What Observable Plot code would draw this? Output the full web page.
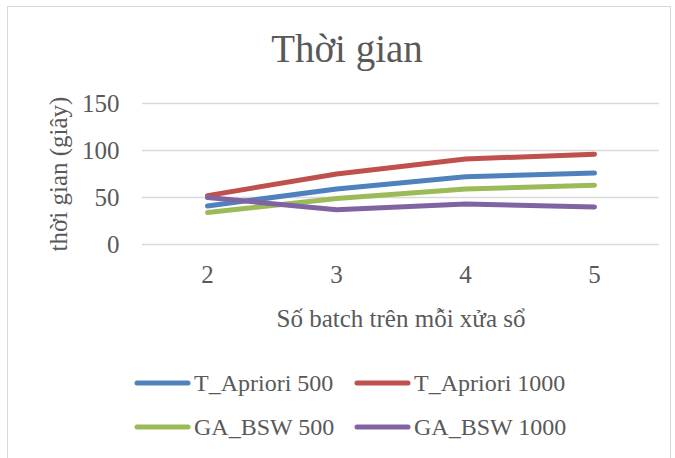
<!DOCTYPE html>
<html>
<head>
<meta charset="utf-8">
<script src="https://cdn.jsdelivr.net/npm/d3@7"></script>
<script src="https://cdn.jsdelivr.net/npm/@observablehq/plot@0.6"></script>
<style>
  html, body { margin: 0; padding: 0; background: #fff; }
  #wrap { position: relative; width: 675px; height: 458px; overflow: hidden; font-family: "Liberation Serif", serif; color: #595959; }
  #frame { position: absolute; left: 7px; top: 6px; width: 664px; height: 470px; border: 1.5px solid #d9d9d9; box-sizing: border-box; }
  #title { position: absolute; left: 0; width: 694px; top: 29px; text-align: center; font-size: 39px; line-height: 39px; font-family: "Liberation Serif", serif; }
  #plot { position: absolute; left: 0; top: 88px; }
  .leg { position: absolute; display: flex; align-items: center; font-family: "Liberation Serif", serif; font-size: 24px; line-height: 24px; white-space: nowrap; color: #595959; }
  .leg span { font-family: "Liberation Serif", serif; }
  .leg svg { margin-right: 3px; }
</style>
</head>
<body>
<div id="wrap">
  <div id="frame"></div>
  <div id="title">Thời gian</div>
  <div id="plot"></div>
  <div id="legend"></div>
</div>
<script>
const xValues = [2, 3, 4, 5];
const seriesNames = ["T_Apriori 500", "T_Apriori 1000", "GA_BSW 500", "GA_BSW 1000"];
const tApriori500 = [41, 59, 72, 76];
const tApriori1000 = [52, 75, 91, 96];
const gaBsw500 = [34, 49, 59, 63];
const gaBsw1000 = [50, 37, 43, 40];
const yTicks = [0, 50, 100, 150];
const colors = ["#4F81BD", "#C0504D", "#9BBB59", "#8064A2"];
const xLabel = "Số batch trên mỗi xửa sổ";
const yLabel = "thời gian (giây)";

const valuesBySeries = [tApriori500, tApriori1000, gaBsw500, gaBsw1000];
const data = [];
seriesNames.forEach((s, i) => xValues.forEach((x, j) => data.push({series: s, x, y: valuesBySeries[i][j]})));

const font = '"Liberation Serif", serif';
const chart = Plot.plot({
  width: 675,
  height: 252,
  marginLeft: 142,
  marginRight: 16,
  marginTop: 15,
  marginBottom: 96,
  style: {fontFamily: font, color: "#595959", background: "transparent"},
  x: {type: "point", domain: xValues, padding: 0.5},
  y: {domain: [0, 150]},
  color: {domain: seriesNames, range: colors},
  marks: [
    Plot.ruleY(yTicks, {stroke: "#d9d9d9", strokeWidth: 1.5}),
    Plot.axisY(yTicks, {tickSize: 0, tickPadding: 23, fontSize: 25, label: null, fill: "#595959"}),
    Plot.axisX(xValues, {tickSize: 0, tickPadding: 21, fontSize: 25, label: null, fill: "#595959"}),
    Plot.text([yLabel], {frameAnchor: "left", textAnchor: "middle", dx: -84, rotate: -90, fontSize: 25, fill: "#595959"}),
    Plot.text([xLabel], {frameAnchor: "bottom", textAnchor: "middle", dy: 82, fontSize: 25, fill: "#595959"}),
    Plot.line(data, {x: "x", y: "y", z: "series", stroke: "series", strokeWidth: 5, strokeLinecap: "round", strokeLinejoin: "round"})
  ]
});
document.getElementById("plot").appendChild(chart);

const legend = document.getElementById("legend");
const pos = [[133, 383], [353, 383], [133, 427], [353, 427]];
seriesNames.forEach((s, i) => {
  const d = document.createElement("div");
  d.className = "leg";
  d.style.left = pos[i][0] + "px";
  d.style.top = (pos[i][1] - 14) + "px";
  d.style.height = "28px";
  d.innerHTML = `<svg width="58" height="10"><line x1="4" y1="5" x2="55" y2="5" stroke="${colors[i]}" stroke-width="5" stroke-linecap="round"/></svg><span>${s}</span>`;
  legend.appendChild(d);
});
</script>
</body>
</html>
